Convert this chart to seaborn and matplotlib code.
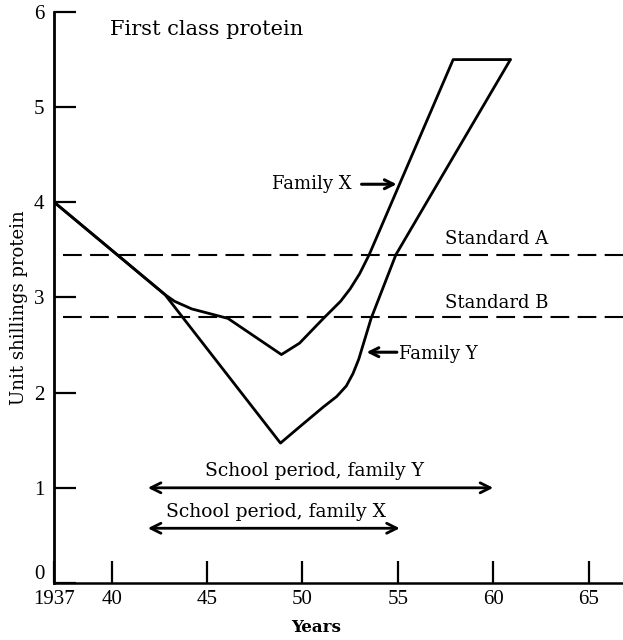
import matplotlib
matplotlib.use("Agg")
import matplotlib.pyplot as plt
import matplotlib.transforms as mtransforms
import seaborn as sns
import pandas as pd

# ---- data ----
years_x = [1937, 1942.8, 1943.3, 1944.2, 1945.15, 1946.1, 1948.9, 1949.85, 1951.1,
           1952.0, 1952.5, 1953.0, 1953.5, 1957.9, 1960.9]
value_x = [4.0, 3.03, 2.96, 2.88, 2.83, 2.78, 2.40, 2.52, 2.78,
           2.96, 3.09, 3.25, 3.45, 5.5, 5.5]

years_y = [1937, 1942.8, 1948.85, 1949.85, 1951.1, 1951.8, 1952.3, 1952.65, 1952.95,
           1953.6, 1954.9, 1960.9]
value_y = [4.0, 3.03, 1.47, 1.64, 1.85, 1.96, 2.07, 2.20, 2.35,
           2.78, 3.45, 5.5]

standard_names = ["Standard A", "Standard B"]
standard_values = [3.45, 2.80]

school_names = ["School period, family Y", "School period, family X"]
school_start = [1941.9, 1941.9]
school_end = [1960.0, 1955.1]
school_level = [1.0, 0.575]

xtick_values = [1937, 1940, 1945, 1950, 1955, 1960, 1965]
xtick_labels = ["1937", "40", "45", "50", "55", "60", "65"]
ytick_values = [0, 1, 2, 3, 4, 5, 6]

df = pd.DataFrame({
    "year": years_x + years_y,
    "value": value_x + value_y,
    "family": ["X"] * len(years_x) + ["Y"] * len(years_y),
})

# ---- style ----
sns.set_style("ticks")
plt.rcParams["font.family"] = ["DejaVu Serif"]
plt.rcParams["text.color"] = "black"
plt.rcParams["axes.labelcolor"] = "black"
plt.rcParams["xtick.color"] = "black"
plt.rcParams["ytick.color"] = "black"

fig = plt.figure(figsize=(6.23, 6.40), dpi=100)
ax = fig.add_axes([0.0872, 0.0891, 1.0 - 0.0872, 0.98125 - 0.0891])

for fam in ["X", "Y"]:
    sns.lineplot(data=df[df["family"] == fam], x="year", y="value", sort=False,
                 estimator=None, color="black", lw=2.0, ax=ax, legend=False)

for name, val in zip(standard_names, standard_values):
    ax.axhline(val, xmin=0.016, xmax=1.0, color="black", lw=1.5, dashes=(9, 4))

# standards labels
ax.text(1957.45, 3.61, standard_names[0], fontsize=13, ha="left", va="center")
ax.text(1957.45, 2.94, standard_names[1], fontsize=13, ha="left", va="center")

# family labels with arrows
ax.annotate("", xy=(1954.94, 4.19), xytext=(1953.1, 4.19),
            arrowprops=dict(arrowstyle="->", lw=2.2, color="black", mutation_scale=16,
                            shrinkA=0, shrinkB=0))
ax.text(1952.6, 4.19, "Family X", fontsize=13, ha="right", va="center")

ax.annotate("", xy=(1953.36, 2.425), xytext=(1954.95, 2.425),
            arrowprops=dict(arrowstyle="->", lw=2.2, color="black", mutation_scale=16,
                            shrinkA=0, shrinkB=0))
ax.text(1955.05, 2.41, "Family Y", fontsize=13, ha="left", va="center")

# school period arrows
for name, s, e, lvl, tx in zip(school_names, school_start, school_end, school_level,
                               [1950.65, 1948.6]):
    ax.annotate("", xy=(e, lvl), xytext=(s, lvl),
                arrowprops=dict(arrowstyle="<->", lw=2.0, color="black", mutation_scale=18,
                                shrinkA=0, shrinkB=0))
    ax.text(tx, lvl + 0.175, name, fontsize=13.5, ha="center", va="center")

ax.text(1939.9, 5.82, "First class protein", fontsize=15, ha="left", va="center")

# axes
ax.set_xlim(1937, 1966.8)
ax.set_ylim(0, 6)
ax.set_xticks(xtick_values)
ax.set_xticklabels(xtick_labels)
ax.set_yticks(ytick_values)
ax.set_yticklabels([str(v) for v in ytick_values])
for lbl in ax.get_xticklabels() + ax.get_yticklabels():
    lbl.set_fontfamily("Liberation Serif")
    lbl.set_fontsize(15)
ax.tick_params(axis="both", direction="in", length=16, width=1.6, colors="black")
ax.tick_params(axis="y", pad=7)
ax.tick_params(axis="x", pad=5)

# raise the "0" label slightly, as in the reference, so it clears "1937"
zero_lbl = ax.get_yticklabels()[0]
zero_lbl.set_transform(zero_lbl.get_transform() +
                       mtransforms.ScaledTranslation(0, 8 / 72, fig.dpi_scale_trans))

sns.despine(ax=ax, top=True, right=True)
ax.spines["left"].set_linewidth(2.0)
ax.spines["bottom"].set_linewidth(1.8)
ax.spines["left"].set_color("black")
ax.spines["bottom"].set_color("black")

ax.set_xlabel("")
ax.set_ylabel("")
fig.text(316 / 623, 1 - 627 / 640, "Years", fontsize=12, fontweight="bold",
         ha="center", va="center")
fig.text(19 / 623, 1 - 308 / 640, "Unit shillings protein", fontsize=13,
         rotation=90, ha="center", va="center")

fig.savefig("out.png", dpi=100)
